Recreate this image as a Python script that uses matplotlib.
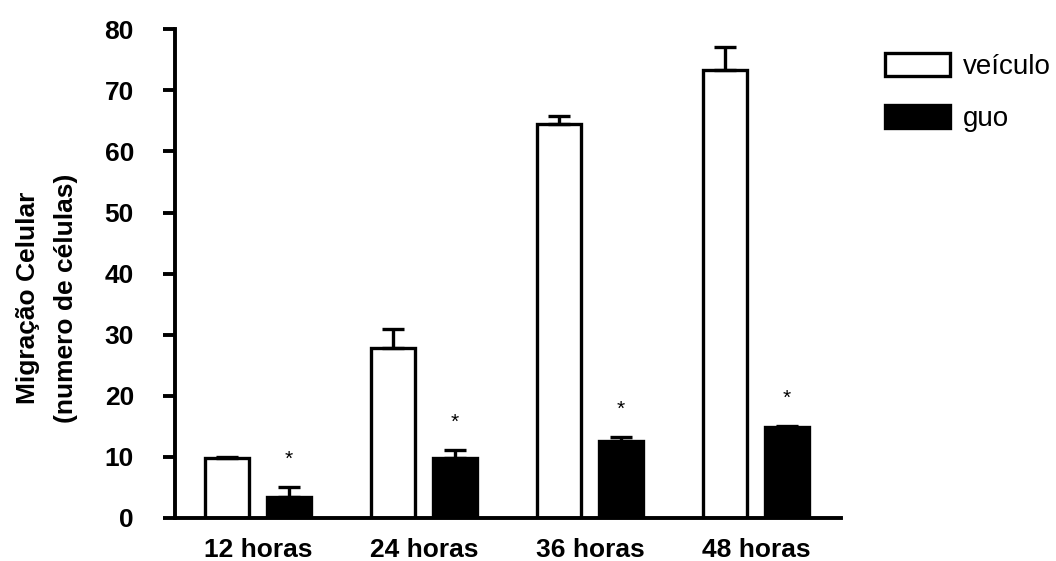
import matplotlib
matplotlib.use("Agg")
import matplotlib.pyplot as plt
import numpy as np

plt.rcParams['font.family'] = ['Liberation Sans', 'DejaVu Sans']

# Data: cell migration (number of cells) over time
groups = ["12 horas", "24 horas", "36 horas", "48 horas"]
veiculo_mean = [9.7, 27.8, 64.5, 73.3]
veiculo_sem = [0.3, 3.1, 1.4, 3.9]
guo_mean = [3.4, 9.7, 12.5, 14.8]
guo_sem = [1.6, 1.4, 0.7, 0.2]
series_labels = ["veículo", "guo"]
yticks = [0, 10, 20, 30, 40, 50, 60, 70, 80]

fig = plt.figure(figsize=(10.56, 5.61), dpi=100)
ax = fig.add_axes([175/1056, 1-517.5/561, (841-175)/1056, (517.5-29.5)/561])

x = np.arange(len(groups))
width = 0.265
offset = 0.187
lw = 2.4

err_kw = dict(ecolor="black", elinewidth=lw, capsize=8, capthick=lw)
b1 = ax.bar(x - offset, veiculo_mean, width, color="white", edgecolor="black",
            linewidth=lw, label=series_labels[0],
            yerr=[np.zeros(len(groups)), veiculo_sem], error_kw=err_kw, zorder=2)
b2 = ax.bar(x + offset, guo_mean, width, color="black", edgecolor="black",
            linewidth=lw, label=series_labels[1],
            yerr=[np.zeros(len(groups)), guo_sem], error_kw=err_kw, zorder=2)

# Significance markers above the treated bars
for xi, m, s in zip(x + offset, guo_mean, guo_sem):
    ax.text(xi, m + s + 4.5, "*", ha="center", va="center", fontsize=15)

ax.set_xlim(-0.5, 3.512)
ax.set_ylim(0, 80)
ax.set_yticks(yticks)
ax.set_xticks(x)
ax.set_xticklabels(groups, fontsize=19, fontweight="bold")
ax.tick_params(axis="x", length=0, pad=15)
ax.tick_params(axis="y", length=8.6, width=2.8, pad=21, labelsize=19)
for lab in ax.get_yticklabels():
    lab.set_fontweight("bold")

for side in ("top", "right"):
    ax.spines[side].set_visible(False)
for side in ("left", "bottom"):
    ax.spines[side].set_linewidth(2.8)
ax.spines["left"].set_bounds(0, 80)

fig.text(47/1056, 1-298/561, "Migração Celular\n(numero de células)", rotation=90,
         ha="center", va="center", fontsize=19, fontweight="bold",
         multialignment="center", linespacing=1.75)

fig.legend(handles=[b1, b2], labels=series_labels, loc="upper left",
           bbox_to_anchor=(885/1056, 1-53/561), frameon=False, fontsize=20,
           handlelength=2.34, handleheight=0.9, labelspacing=0.9,
           handletextpad=0.47, borderaxespad=0, borderpad=0)

fig.savefig("out.png", dpi=100)
